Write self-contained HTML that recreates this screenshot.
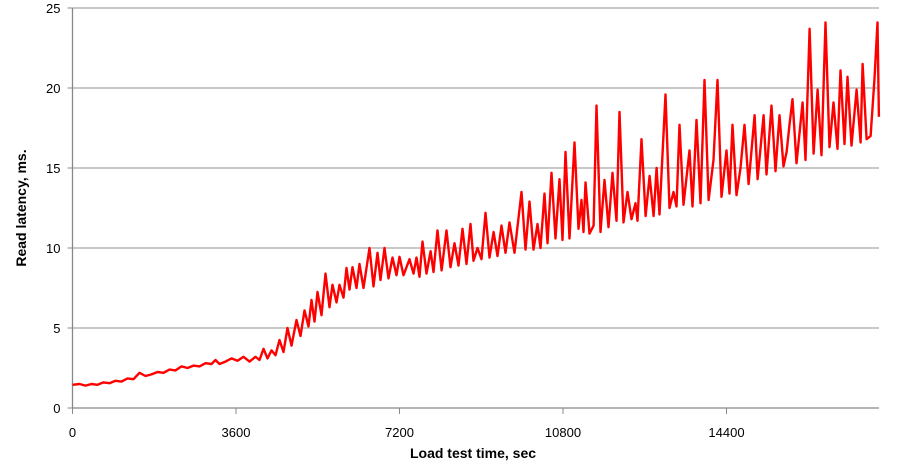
<!DOCTYPE html>
<html><head><meta charset="utf-8"><style>
body{margin:0;background:#fff;}
svg{display:block;font-family:"Liberation Sans",Arial,sans-serif;}
</style></head><body>
<svg id="chart" width="917" height="471" viewBox="0 0 917 471" xmlns="http://www.w3.org/2000/svg">
<g id="grid"></g>
<g id="axes"></g>
<path id="series" fill="none" stroke="#ff0000" stroke-width="2.4" stroke-linejoin="round"/>
<text x="473" y="458" text-anchor="middle" font-size="14" font-weight="bold">Load test time, sec</text>
<text transform="translate(26,208) rotate(-90)" text-anchor="middle" font-size="14" font-weight="bold">Read latency, ms.</text>
</svg>
<script>
const times=[0,154,287,418,551,682,815,947,1079,1211,1343,1475,1608,1739,1872,2004,2136,2268,2400,2532,2665,2796,2929,3060,3149,3237,3369,3501,3634,3765,3898,4029,4117,4205,4294,4382,4470,4558,4646,4734,4822,4932,5020,5109,5197,5262,5329,5395,5483,5571,5659,5725,5813,5879,5967,6034,6100,6166,6254,6319,6407,6540,6628,6716,6782,6870,6958,7046,7134,7200,7288,7421,7509,7575,7641,7707,7795,7884,7949,8037,8126,8236,8324,8412,8500,8588,8676,8764,8830,8918,9006,9094,9182,9271,9359,9447,9535,9623,
9733,9887,9975,10063,10151,10239,10305,10393,10459,10547,10635,10723,10790,10856,10944,11054,11142,11208,11252,11296,11384,11473,11538,11626,11714,11803,11891,11979,12045,12133,12221,12309,12397,12441,12529,12618,12706,12794,12860,12925,13058,13146,13234,13300,13366,13454,13586,13652,13740,13828,13916,14005,14115,14203,14291,14401,14467,14533,14621,14709,14797,14886,15018,15084,15216,15282,15391,15480,15568,15656,15723,15788,15854,15942,16075,16140,16229,16317,16405,16493,16581,16669,16757,16845,16911,16999,17065,17153,17264,17352,17396,17485,17573,17660,17726,17755];
const latency=[1.45,1.5,1.4,1.5,1.45,1.6,1.55,1.7,1.65,1.85,1.8,2.2,2.0,2.1,2.25,2.2,2.4,2.35,2.6,2.5,2.65,2.6,2.8,2.75,3.0,2.75,2.9,3.1,2.95,3.2,2.9,3.2,3.0,3.7,3.1,3.6,3.3,4.25,3.5,5.0,3.9,5.5,4.5,6.1,5.1,6.75,5.4,7.25,5.8,8.4,6.3,7.7,6.6,7.7,6.9,8.75,7.4,8.8,7.5,9.0,7.5,10.0,7.6,9.7,8.0,10.0,8.1,9.4,8.3,9.45,8.3,9.3,8.4,9.4,8.2,10.4,8.4,9.8,8.5,11.1,8.6,11.1,8.8,10.3,8.9,11.2,9.0,11.5,9.2,10.0,9.3,12.2,9.4,11.0,9.5,11.4,9.7,11.6,
9.7,13.5,9.9,12.9,9.9,11.5,10.0,13.4,10.3,14.7,10.6,14.3,10.5,16.0,10.6,16.6,11.2,13.0,11.0,14.1,10.9,11.4,18.9,11.0,14.25,11.3,14.7,11.7,18.5,11.6,13.5,11.8,12.8,11.7,16.8,12.0,14.5,12.0,15.0,12.1,19.6,12.5,13.5,12.6,17.7,12.7,16.1,12.6,18.0,12.8,20.5,13.0,15.5,20.5,13.2,16.1,13.4,17.7,13.3,15.0,17.7,14.0,18.3,14.3,18.3,14.6,18.9,14.8,18.3,15.1,16.0,17.7,19.3,15.3,19.1,15.5,23.7,15.9,19.9,15.8,24.1,16.3,19.1,16.2,21.1,16.5,20.7,16.4,19.9,16.6,21.5,16.8,17.0,20.6,24.1,18.2];
const xTicks=[0,3600,7200,10800,14400];
const yTicks=[0,5,10,15,20,25];
const X0=72.5,X1=879,Y0=408,Y1=8,XMAX=17758,YMAX=25;
const xs=t=>X0+(X1-X0)*t/XMAX;
const ys=v=>Y0-(Y0-Y1)*v/YMAX;
const NS="http://www.w3.org/2000/svg";
const grid=document.getElementById('grid'),axes=document.getElementById('axes');
function mk(tag,attrs,parent){const e=document.createElementNS(NS,tag);for(const k in attrs)e.setAttribute(k,attrs[k]);parent.appendChild(e);return e;}
yTicks.forEach(v=>{
  if(v>0){const g=mk('line',{x1:X0,x2:X1,y1:ys(v),y2:ys(v),stroke:'#a6a6a6','stroke-width':1.3},grid);
  
  }
  const tk=mk('line',{x1:X0-5,x2:X0,y1:ys(v),y2:ys(v),stroke:'#888','stroke-width':1},axes);
  
  
  const t=mk('text',{x:X0-12,y:ys(v)+5,'text-anchor':'end','font-size':13},axes);t.textContent=v;
  
  
});
const ax=mk('line',{x1:X0,x2:X0,y1:Y1,y2:Y0,stroke:'#888','stroke-width':1.3},axes);


const bx=mk('line',{x1:X0,x2:X1,y1:Y0,y2:Y0,stroke:'#888','stroke-width':1.3},axes);


xTicks.forEach(v=>{
  const tk=mk('line',{x1:xs(v),x2:xs(v),y1:Y0,y2:Y0+6,stroke:'#888','stroke-width':1},axes);
  
  
  const t=mk('text',{x:xs(v),y:Y0+29,'text-anchor':'middle','font-size':13},axes);t.textContent=v;
  
  
});
document.getElementById('series').setAttribute('d',times.map((t,i)=>(i?'L':'M')+xs(t).toFixed(1)+','+ys(latency[i]).toFixed(1)).join(''));
</script>
</body></html>
